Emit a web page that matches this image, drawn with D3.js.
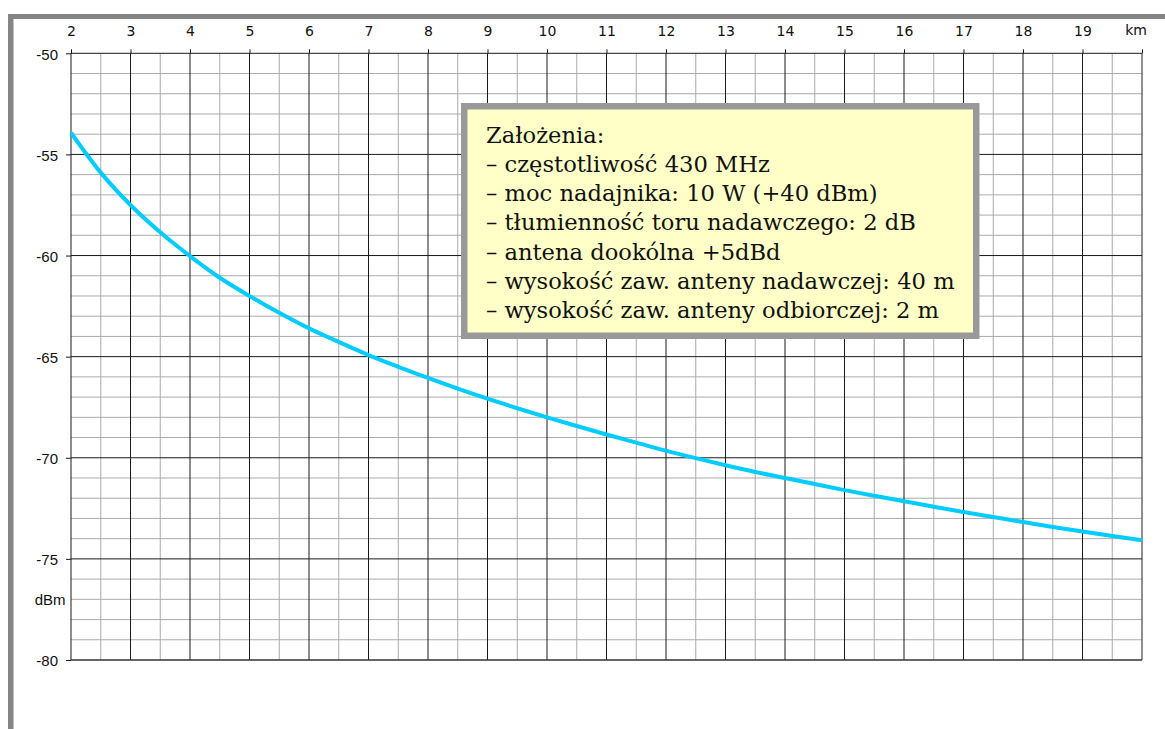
<!DOCTYPE html>
<html>
<head>
<meta charset="utf-8">
<script src="https://cdn.jsdelivr.net/npm/d3@7"></script>
<style>
  html, body { margin: 0; padding: 0; background: #ffffff; }
  svg { display: block; }
</style>
</head>
<body>
<svg id="chart" width="1165" height="729"></svg>
<script>
// ---- data ----
const distanceKm = [2, 2.5, 3, 3.5, 4, 4.5, 5, 5.5, 6, 6.5, 7, 7.5, 8, 8.5, 9, 9.5, 10, 10.5, 11, 11.5, 12, 12.5, 13, 13.5, 14, 14.5, 15, 15.5, 16, 16.5, 17, 17.5, 18, 18.5, 19, 19.5, 20];
const levelDbm = [-53.93, -55.9, -57.5, -58.85, -60.03, -61.1, -62.0, -62.83, -63.6, -64.27, -64.92, -65.5, -66.05, -66.58, -67.08, -67.55, -68.0, -68.43, -68.85, -69.25, -69.65, -70.02, -70.37, -70.7, -71.0, -71.3, -71.6, -71.88, -72.15, -72.42, -72.68, -72.93, -73.18, -73.42, -73.65, -73.87, -74.08];
const xTickLabels = [2, 3, 4, 5, 6, 7, 8, 9, 10, 11, 12, 13, 14, 15, 16, 17, 18, 19];
const yTickLabels = [-50, -55, -60, -65, -70, -75, -80];
const xUnit = "km";
const yUnit = "dBm";
const notesTitle = "Założenia:";
const notes = [
  "– częstotliwość 430 MHz",
  "– moc nadajnika: 10 W (+40 dBm)",
  "– tłumienność toru nadawczego: 2 dB",
  "– antena dookólna +5dBd",
  "– wysokość zaw. anteny nadawczej: 40 m",
  "– wysokość zaw. anteny odbiorczej: 2 m"
];

// ---- layout ----
const svg = d3.select("#chart");
const x = d3.scaleLinear().domain([2, 20]).range([71, 1142]);
const y = d3.scaleLinear().domain([-80, -50]).range([660, 53.3]);

// frame (gray bars top/left)
svg.append("rect").attr("x", 8).attr("y", 14).attr("width", 1165 - 8).attr("height", 5).attr("fill", "#858585");
svg.append("rect").attr("x", 8).attr("y", 14).attr("width", 5.5).attr("height", 729 - 14).attr("fill", "#858585");

const grid = svg.append("g");
// minor verticals (half km)
const minorX = d3.range(2.5, 20, 1);
grid.selectAll("line.mx").data(minorX).join("line")
  .attr("x1", d => x(d)).attr("x2", d => x(d))
  .attr("y1", y(-50)).attr("y2", y(-80))
  .attr("stroke", "#ababab").attr("stroke-width", 1);
// minor horizontals (1 dB)
const minorY = d3.range(-79, -50, 1).filter(d => d % 5 !== 0);
grid.selectAll("line.my").data(minorY).join("line")
  .attr("x1", x(2)).attr("x2", x(20))
  .attr("y1", d => y(d)).attr("y2", d => y(d))
  .attr("stroke", "#ababab").attr("stroke-width", 1);
// major verticals (km)
const majorX = d3.range(2, 21, 1);
grid.selectAll("line.Mx").data(majorX).join("line")
  .attr("x1", d => x(d)).attr("x2", d => x(d))
  .attr("y1", y(-50)).attr("y2", y(-80))
  .attr("stroke", d => d === 20 ? "#6a6a6a" : "#1a1a1a").attr("stroke-width", d => d === 20 ? 1.5 : 1);
// major horizontals (5 dB)
grid.selectAll("line.My").data(yTickLabels).join("line")
  .attr("x1", x(2)).attr("x2", x(20))
  .attr("y1", d => y(d)).attr("y2", d => y(d))
  .attr("stroke", d => d === -80 ? "#333" : "#1a1a1a").attr("stroke-width", d => d === -80 ? 1.5 : 1);

// axes
const xAxis = d3.axisTop(x).tickValues(d3.range(2, 21, 1))
  .tickSize(4).tickPadding(13)
  .tickFormat(d => xTickLabels.includes(d) ? String(d) : "");
const gx = svg.append("g").attr("transform", `translate(0,${y(-50)})`).call(xAxis);
gx.select(".domain").remove();
gx.selectAll(".tick line").attr("stroke", "#1a1a1a");
gx.selectAll(".tick text").attr("font-family", "'DejaVu Sans', Verdana, sans-serif")
  .attr("font-size", 14).attr("fill", "#111");

const yAxis = d3.axisLeft(y).tickValues(yTickLabels).tickSize(5).tickPadding(8)
  .tickFormat(d => String(d));
const gy = svg.append("g").attr("transform", `translate(${x(2)},0)`).call(yAxis);
gy.select(".domain").remove();
gy.selectAll(".tick line").attr("stroke", "#1a1a1a");
gy.selectAll(".tick text").attr("font-family", "'Liberation Sans', Arial, sans-serif")
  .attr("font-size", 15).attr("fill", "#111").attr("dy", "0.38em");

svg.append("text").text(xUnit).attr("x", 1136).attr("y", 35)
  .attr("text-anchor", "middle").attr("font-family", "'DejaVu Sans', Verdana, sans-serif")
  .attr("font-size", 14).attr("fill", "#111");
svg.append("text").text(yUnit).attr("x", 65.5).attr("y", y(-77) + 5.5)
  .attr("text-anchor", "end").attr("font-family", "'Liberation Sans', Arial, sans-serif")
  .attr("font-size", 15).attr("fill", "#111");

// curve
const pts = distanceKm.map((d, i) => [d, levelDbm[i]]);
svg.append("path").datum(pts)
  .attr("d", d3.line().x(d => x(d[0])).y(d => y(d[1])).curve(d3.curveCatmullRom.alpha(0.5)))
  .attr("fill", "none").attr("stroke", "#00ccff").attr("stroke-width", 4)
  .attr("stroke-linejoin", "round").attr("stroke-linecap", "butt");

// notes box
const box = svg.append("g");
box.append("rect").attr("x", 464.25).attr("y", 106.25).attr("width", 976.25 - 464.25).attr("height", 335.75 - 106.25)
  .attr("fill", "#ffffc8").attr("stroke", "#999999").attr("stroke-width", 6.5);
const lines = [notesTitle].concat(notes);
const txt = box.selectAll("text").data(lines).join("text")
  .text(d => d)
  .attr("x", 486)
  .attr("y", (d, i) => 142.5 + i * 29.3)
  .attr("font-family", "'DejaVu Serif', 'Liberation Serif', serif")
  .attr("font-size", 20).attr("fill", "#111");
// fit the longest line to the reference width
let maxW = 0;
txt.each(function () { maxW = Math.max(maxW, this.getComputedTextLength()); });
const fs = 20 * 469 / maxW;
txt.attr("font-size", fs);
</script>
</body>
</html>
